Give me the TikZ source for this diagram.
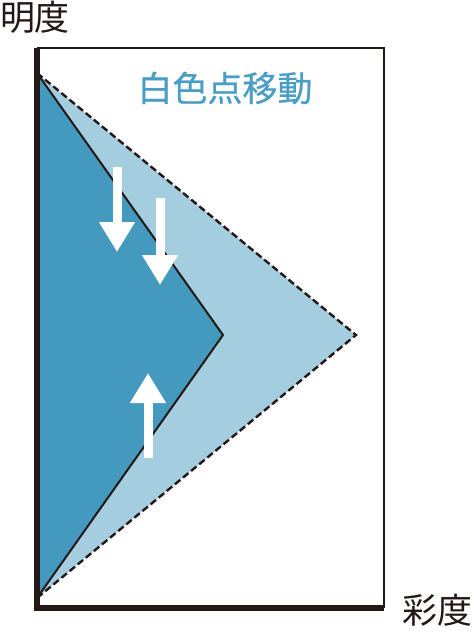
\documentclass[tikz,border=0pt]{standalone}
\usepackage{fontspec}
\setmainfont{Noto Sans CJK JP}
\usetikzlibrary{arrows.meta}
\definecolor{inkblack}{HTML}{231815}
\definecolor{darkfill}{HTML}{4399BE}
\definecolor{lightfill}{HTML}{A4CEDF}
\definecolor{titleblue}{HTML}{4A9DC4}
\tikzset{
  moveup/.style={white, line width=9, -{Triangle[width=34,length=30]}},
}
\begin{document}
\begin{tikzpicture}[x=1pt,y=-1pt]
\useasboundingbox (0,0) rectangle (474,641);
% Triangles:
\draw[dash pattern=on 7pt off 3.5pt, line width=2.4, draw=inkblack, fill=lightfill] (37,73)--(356,335)--(37,598);
\draw[line width=2, draw=inkblack, fill=darkfill] (37,73)--(223,335)--(37,598);
% Frame:
\draw[line width=2, inkblack] (37,48)--(384,48)--(384,608);
\draw[line width=6, inkblack] (37,48)--(37,608)--(384,608);
% Arrows:
\draw[moveup] (117,167)--(117,252);
\draw[moveup] (160,198)--(160,285);
\draw[moveup] (148,458)--(148,373);
% Labels:
\node (brightness) [font=\fontsize{35}{35}\selectfont, inkblack] at (35,17) {明度};
\node (chroma) [font=\fontsize{35}{35}\selectfont, inkblack] at (437,610) {彩度};
\node (title) [font=\fontsize{35}{35}\selectfont\addfontfeatures{FakeBold=0.6}, titleblue] at (225,88) {白色点移動};
\end{tikzpicture}
\end{document}
